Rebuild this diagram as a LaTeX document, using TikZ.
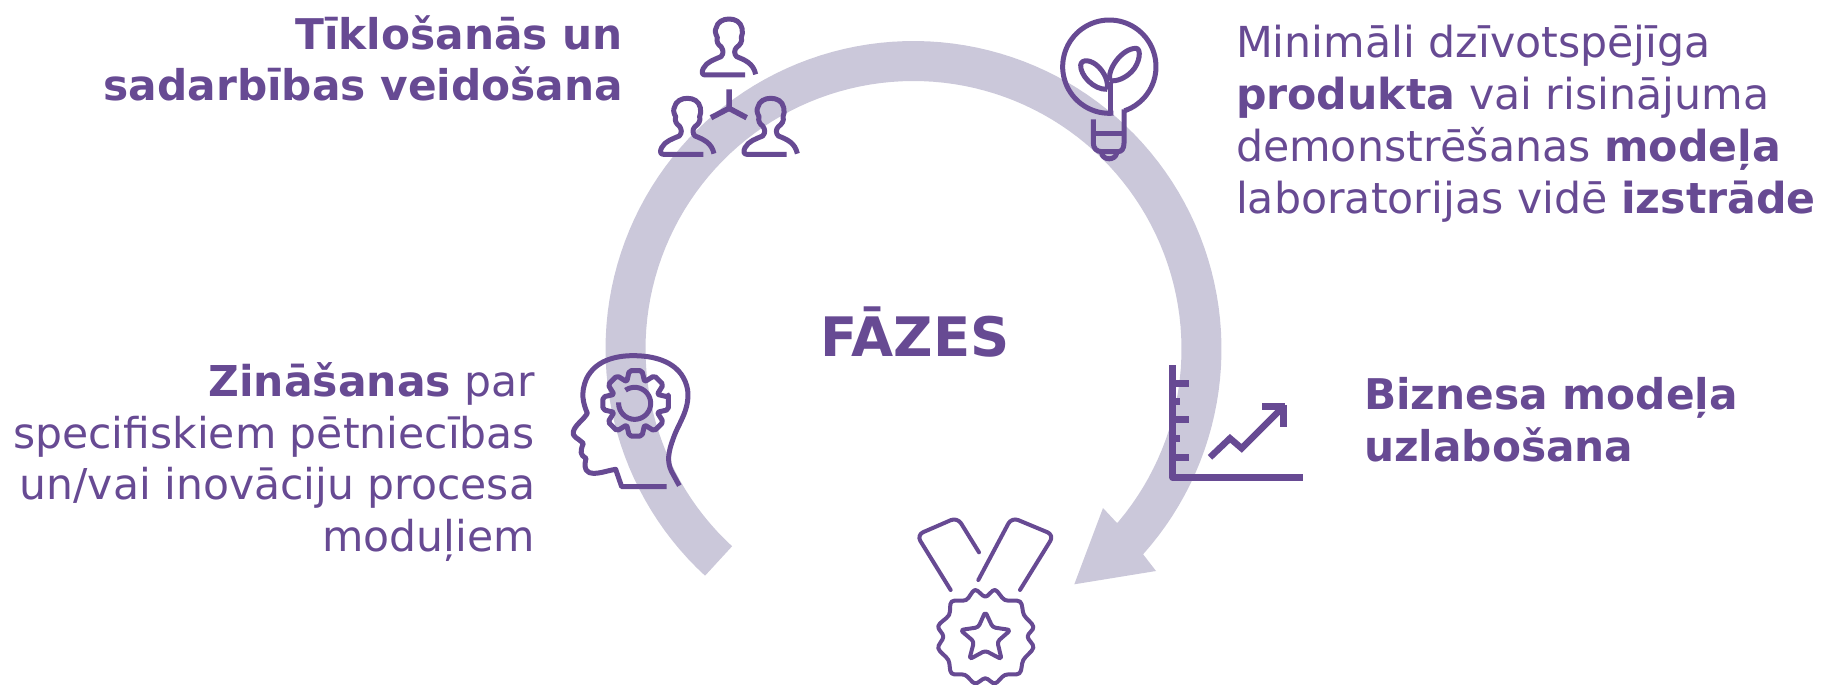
\documentclass[tikz,border=0pt]{standalone}
\usepackage{fontspec}
\setmainfont{DejaVu Sans}
\definecolor{pur}{HTML}{674A93}
\definecolor{ringc}{HTML}{CBC8DA}
\newcommand{\personicon}[2]{%
\draw[icon,shift={(#1,#2)},x=0.3333pt,y=-0.3333pt] (48,168) -- (-72,168) .. controls (-82,168) and (-82,158) .. (-77,148) .. controls (-67,128) and (-42,121) .. (-24,113) .. controls (-15,103) and (-17,93) .. (-24,83) .. controls (-32,78) and (-39,68) .. (-35,55) .. controls (-42,43) and (-42,33) .. (-39,28) .. controls (-35,8) and (-17,0) .. (0,0) .. controls (18,0) and (35,8) .. (39,28) .. controls (41,38) and (41,48) .. (37,55) .. controls (41,68) and (33,78) .. (23,85) .. controls (15,93) and (15,105) .. (23,113) .. controls (48,123) and (73,133) .. (80,166);}
\tikzset{
 icon/.style={draw=pur,line width=5pt,line join=round,fill=none},
 thinicon/.style={draw=pur,line width=4pt,line join=round,line cap=round,fill=none},
 chartline/.style={draw=pur,line width=6.5pt},
 zs/.style 2 args={shift={(#1,#2)},x=0.3333pt,y=-0.3333pt},
 lab/.style={text=pur,inner sep=0pt,outer sep=0pt}
}
\begin{document}
\begin{tikzpicture}[x=1pt,y=-1pt]
\useasboundingbox (0,0) rectangle (1821,685);
\clip (0,0) rectangle (1821,685);
% ring arrow
\fill[ringc] plot[domain=132.6:401.8,samples=120] ({913.5+308*cos(\x)},{349+308*sin(\x)})
  -- (1156,571) -- (1074.3,584.3) -- (1103,508) -- (1117,523)
  -- plot[domain=400:132.6,samples=120] ({913.5+268*cos(\x)},{349+268*sin(\x)}) -- cycle;
% people
\personicon{729}{19}
\personicon{687.3}{98.3}
\personicon{770.7}{98.3}
\draw[icon,line width=5.5pt] (729,89.3) -- (729,108.3) -- (711,117.7);
\draw[icon,line width=5.5pt] (729,108.3) -- (746.7,117.7);
% bulb
\begin{scope}[zs={1050}{10}]
\draw[icon] plot[domain=71:-275,samples=80] ({178+140*cos(\x)},{170+140*sin(\x)});
\draw[icon] (222,298) -- (222,400) .. controls (222,415) and (215,425) .. (205,425) -- (155,425) .. controls (140,425) and (130,415) .. (130,400) -- (130,328);
\draw[icon] (130,372) -- (222,372);
\draw[icon] (155,430) .. controls (160,452) and (195,452) .. (200,430);
\draw[icon] (182,312) -- (182,215);
\draw[icon] (172,238) .. controls (130,240) and (90,195) .. (92,165) .. controls (95,145) and (125,150) .. (145,170) .. controls (165,190) and (175,215) .. (172,238);
\draw[icon] (180,212) .. controls (170,180) and (215,115) .. (258,115) .. controls (275,115) and (270,160) .. (245,185) .. controls (225,205) and (200,215) .. (180,212);
\end{scope}
% head with gear
\begin{scope}[zs={550}{340}]
\draw[icon] (350,440) -- (215,440) -- (197,388) .. controls (170,392) and (140,405) .. (118,398) .. controls (100,390) and (105,370) .. (108,355) .. controls (90,345) and (90,335) .. (100,310) .. controls (85,295) and (65,290) .. (70,275) .. controls (75,255) and (100,240) .. (112,220) .. controls (100,190) and (90,160) .. (110,115) .. controls (135,65) and (190,47) .. (250,47) .. controls (330,47) and (400,75) .. (413,150) .. controls (420,210) and (385,250) .. (370,295) .. controls (355,335) and (350,365) .. (365,395) -- (388,437);
\begin{scope}[shift={(257,190)}]
\draw[icon,rounded corners=2pt] (-11:100) \foreach \a in {0,45,...,315} { -- ({\a-11}:100) -- ({\a+11}:100) -- ({\a+22.5}:70) } -- cycle;
\draw[icon] plot[domain=183:-125,samples=50] ({-3+48*cos(\x)},{48*sin(\x)});
\end{scope}
\end{scope}
% chart
\begin{scope}[zs={1040}{340}]
\draw[chartline,line join=round] (398,75) -- (398,413) -- (790,413);
\foreach \yy/\xx in {130/448,185/420,238/448,295/420,352/448} \draw[chartline] (398,\yy) -- (\xx,\yy);
\draw[chartline] (510,352) -- (570,295) -- (605,325) -- (730,200);
\draw[chartline] (667,200) -- (736,200);
\draw[chartline] (730,196) -- (730,262);
\end{scope}
% medal
\begin{scope}[zs={880}{500}]
\draw[thinicon,rounded corners=7pt] (212,270) -- (110,105) -- (232,52) -- (297,157);
\draw[thinicon,rounded corners=7pt] (295,240) -- (395,52) -- (522,105) -- (420,270);
\draw[thinicon] plot[smooth cycle,tension=0.6] coordinates {(316,290) (345,270) (375,300) (420,305) (432,345) (460,380) (443,410) (460,443) (430,480) (418,520) (375,525) (345,550) (316,535) (285,550) (255,525) (215,520) (205,480) (175,445) (190,410) (175,378) (207,345) (215,305) (258,300) (285,270)};
\draw[thinicon,rounded corners=3pt] (316,335) -- (338,382) -- (392,390) -- (352,425) -- (365,478) -- (316,452) -- (268,478) -- (282,425) -- (241,390) -- (295,382) -- cycle;
\end{scope}
% texts (the base anchor of a multi-line node sits on its last line)
\node[lab,anchor=base east,align=right,font=\fontsize{42.3}{51}\selectfont\bfseries] (netw) at (623,100.5) {Tīklošanās un\\sadarbības veidošana};
\node[lab,anchor=base west,align=left,font=\fontsize{42.7}{52}\selectfont] (prod) at (1236,213.5) {Minimāli dzīvotspējīga\\\textbf{produkta} vai risinājuma\\demonstrēšanas \textbf{modeļa}\\laboratorijas vidē \textbf{izstrāde}};
\node[lab,anchor=base,font=\fontsize{54.4}{60}\selectfont\bfseries] (faz) at (915,356) {FĀZES};
\node[lab,anchor=base west,align=left,font=\fontsize{42.3}{52}\selectfont\bfseries] (bizn) at (1364,461.5) {Biznesa modeļa\\uzlabošana};
\node[lab,anchor=base east,align=right,font=\fontsize{42.5}{51.5}\selectfont] (zin) at (535,551) {\textbf{Zināšanas} par\\specifiskiem pētniecības\\un/vai inovāciju procesa\\moduļiem};
\end{tikzpicture}
\end{document}
